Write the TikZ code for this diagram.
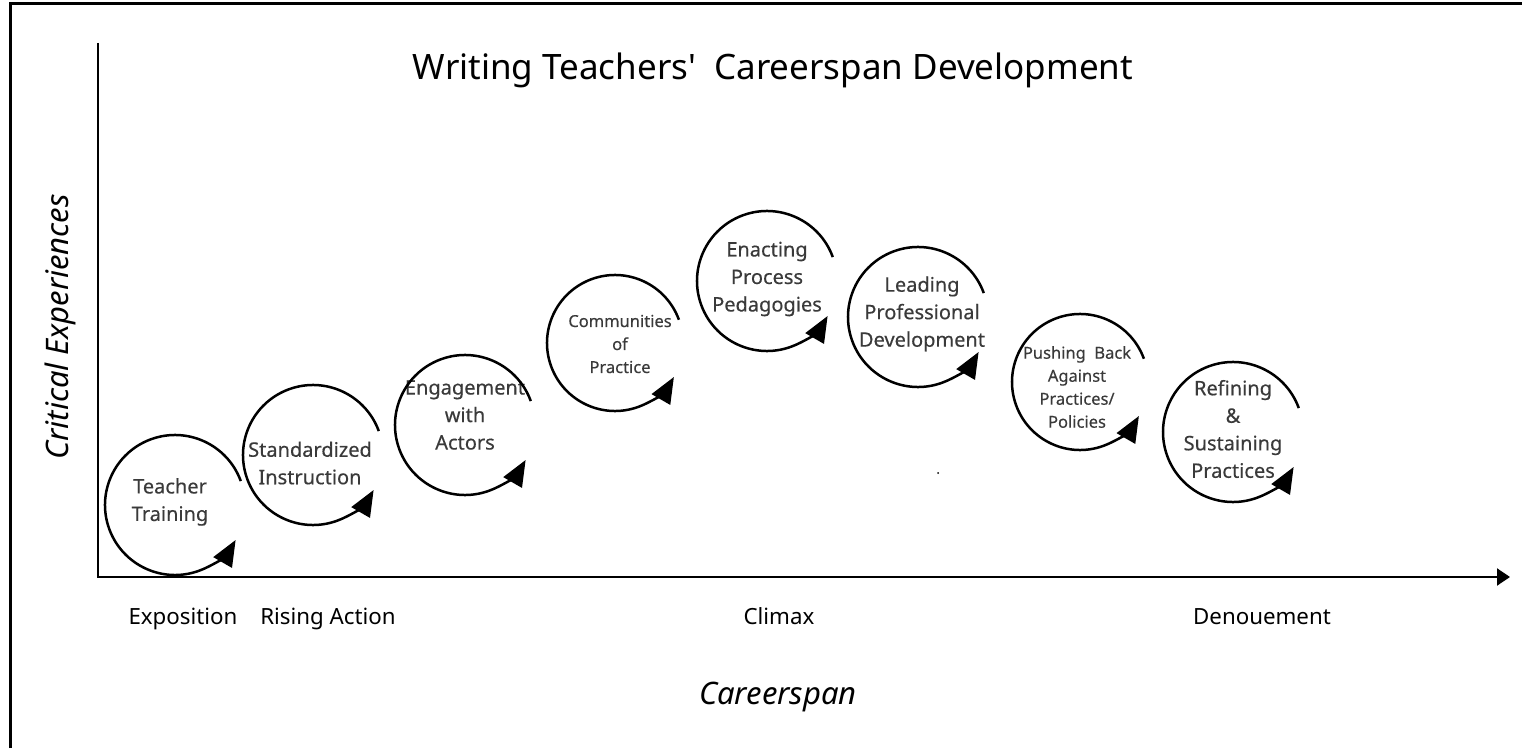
\documentclass[tikz,border=0pt]{standalone}
\usepackage{fontspec}
\setmainfont{Noto Sans}
\newfontfamily\stagefont[FakeBold=0.35]{Noto Sans}
\usetikzlibrary{arrows.meta}

\definecolor{stagegray}{HTML}{3A3A3A}

\tikzset{
  turn/.style={line width=2.5pt, -{Triangle[length=26pt,width=21pt]}},
  stage/.style={align=center, text=stagegray, inner sep=0pt, font=\stagefont\fontsize{20}{27.5}\selectfont},
  smallstage/.style={stage, font=\stagefont\fontsize{16.5}{23}\selectfont},
  phase/.style={anchor=base, font=\fontsize{22.3}{26}\selectfont},
}

\begin{document}
\begin{tikzpicture}[x=1pt,y=1pt]
          \useasboundingbox (0,0) rectangle (1522,748);
          \draw[line width=3pt] (10,0) -- (10,744) -- (1522,744);

          % axes
          \coordinate (ytop) at (98,705);
          \coordinate (origin) at (98,171);
          \coordinate (xend) at (1510,171);
          \draw[line width=2pt, -{Triangle[length=13pt,width=17pt]}] (ytop) -- (origin) -- (xend);

          \node[font=\fontsize{35}{40}\selectfont] (title) at (773,678) {Writing Teachers\textquotesingle\ \ Careerspan Development};
          \node[font=\itshape\fontsize{31}{35}\selectfont, rotate=90] (ylabel) at (60,421) {Critical Experiences};
          \node[font=\itshape\fontsize{31}{35}\selectfont] (xlabel) at (778,51) {Careerspan};

          \node[phase] (expo) at (183,124) {Exposition};
          \node[phase] (rising) at (328,124) {Rising Action};
          \node[phase] (climax) at (779,124) {Climax};
          \node[phase] (denoue) at (1262,124) {Denouement};

          % the stages, each with its turning arrow
          \coordinate (c1) at (175,243);
          \coordinate (c2) at (313,293);
          \coordinate (c3) at (465,323);
          \coordinate (c4) at (615,405);
          \coordinate (c5) at (767,467);
          \coordinate (c6) at (918,431);
          \coordinate (c7) at (1080,366);
          \coordinate (c8) at (1233,316);

          \node[stage] (training) at (170,246) {Teacher\\Training};
          \node[stage] (standard) at (310,285) {Standardized\\Instruction};
          \node[stage] (actors) at (465,333) {Engagement\\with\\Actors};
          \node[smallstage] (community) at (620,404) {Communities\\of\\Practice};
          \node[stage] (process) at (767,469) {Enacting\\Process\\Pedagogies};
          \node[stage] (leading) at (922,434) {Leading\\Professional\\Development};
          \node[smallstage] (pushback) at (1077,361) {Pushing\ \ Back\\Against\\Practices/\\Policies};
          \node[stage] (refining) at (1233,319) {Refining\\\&\\Sustaining\\Practices};

          \draw[turn] ([shift={(20:70pt)}]c1) arc[start angle=20, end angle=330, radius=70pt];
          \draw[turn] ([shift={(20:70pt)}]c2) arc[start angle=20, end angle=330, radius=70pt];
          \draw[turn] ([shift={(20:70pt)}]c3) arc[start angle=20, end angle=330, radius=70pt];
          \draw[turn] ([shift={(20:68pt)}]c4) arc[start angle=20, end angle=330, radius=68pt];
          \draw[turn] ([shift={(20:70pt)}]c5) arc[start angle=20, end angle=330, radius=70pt];
          \draw[turn] ([shift={(20:70pt)}]c6) arc[start angle=20, end angle=330, radius=70pt];
          \draw[turn] ([shift={(20:68pt)}]c7) arc[start angle=20, end angle=330, radius=68pt];
          \draw[turn] ([shift={(20:70pt)}]c8) arc[start angle=20, end angle=330, radius=70pt];

          \fill (938,275) circle (1pt);
\end{tikzpicture}
\end{document}
